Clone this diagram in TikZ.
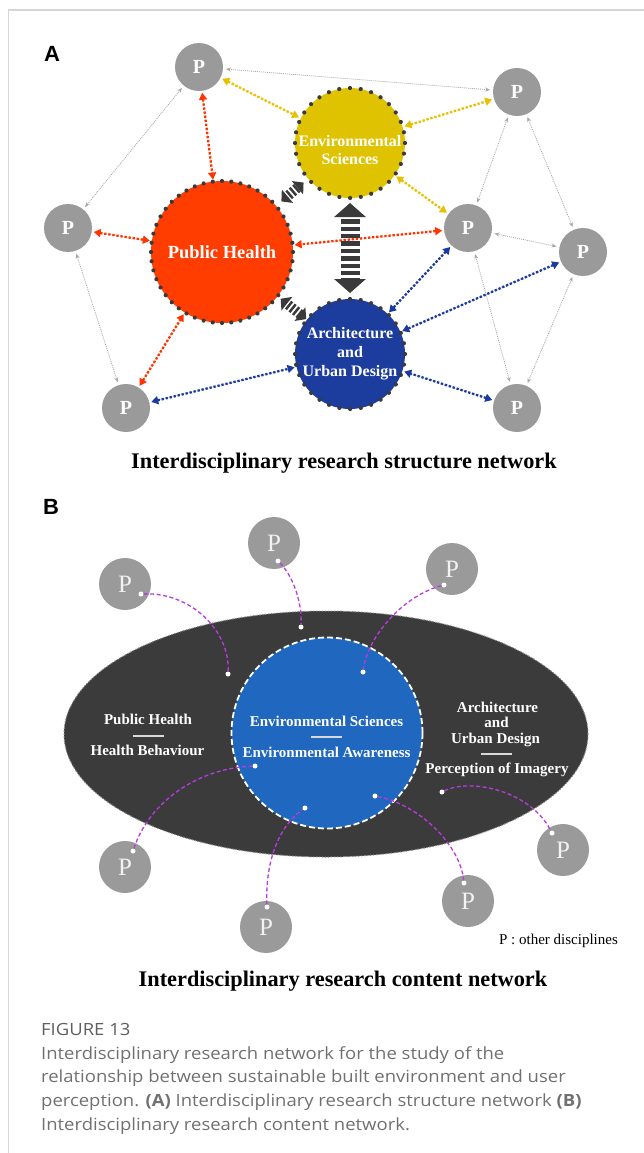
\documentclass[tikz,border=0pt]{standalone}
\usepackage{fontspec}
\setmainfont{Liberation Serif}
\newfontfamily\capfont[FakeStretch=1.1]{Open Sans}
\newfontfamily\labfont{Liberation Sans}
\usetikzlibrary{arrows.meta,shapes.geometric}
\definecolor{pgray}{HTML}{9A9A9A}
\definecolor{esyel}{HTML}{E0C300}
\definecolor{phred}{HTML}{FF3D00}
\definecolor{audblue}{HTML}{1C3C9E}
\definecolor{yarr}{HTML}{E8C000}
\definecolor{rarr}{HTML}{FF3300}
\definecolor{barr}{HTML}{1A3A9F}
\definecolor{dotc}{HTML}{3A3A3A}
\definecolor{lgray}{HTML}{A8A8A8}
\definecolor{ellc}{HTML}{3B3B3B}
\definecolor{ellb}{HTML}{8A8A8A}
\definecolor{bblue}{HTML}{1F67BF}
\definecolor{mag}{HTML}{B83BE0}
\definecolor{ptext}{HTML}{F2F2F2}
\definecolor{capgray}{HTML}{707070}
\definecolor{framec}{HTML}{D6D6D6}
\begin{document}
\begin{tikzpicture}[x=1pt,y=-1pt,
  pA/.style={circle, fill=pgray, minimum size=48pt, inner sep=0pt, outer sep=0pt, text=white, font=\bfseries\fontsize{20}{20}\selectfont},
  pB/.style={circle, fill=pgray, minimum size=52pt, inner sep=0pt, outer sep=0pt, text=ptext, font=\fontsize{25}{25}\selectfont},
  disc/.style={circle, inner sep=0pt, outer sep=0pt, draw=dotc, line width=4.2pt, line cap=round, text=white, align=center},
  con/.style={line width=2.3pt, dash pattern=on 2.3pt off 1.8pt, shorten <=2pt, shorten >=2pt, arrows={Triangle[length=7pt,width=8pt]-Triangle[length=7pt,width=8pt]}},
  ycon/.style={con, draw=yarr, fill=yarr},
  rcon/.style={con, draw=rarr, fill=rarr},
  bcon/.style={con, draw=barr, fill=barr},
  gcon/.style={draw=lgray, line width=0.8pt, dash pattern=on 1pt off 1pt, shorten <=3pt, shorten >=3pt, arrows={Stealth[length=5pt,width=4pt]-Stealth[length=5pt,width=4pt]}},
  bigarr/.style={draw=dotc, line width=19pt, dash pattern=on 4.3pt off 3.1pt, dash phase=4.3pt, arrows={Triangle[length=14pt,width=31pt]-Triangle[length=14pt,width=31pt]}},
  smallarr/.style={draw=dotc, line width=10pt, dash pattern=on 2.5pt off 2pt, dash phase=2.5pt, arrows={Triangle[length=8pt,width=17pt]-Triangle[length=8pt,width=17pt]}},
  panlab/.style={inner sep=0pt, anchor=base west, font=\labfont\bfseries\fontsize{22}{22}\selectfont},
  ttl/.style={inner sep=0pt, anchor=base, font=\bfseries\fontsize{22.3}{24}\selectfont},
  btxt/.style={inner sep=0pt, anchor=base, text=white, font=\bfseries\fontsize{15}{16}\selectfont},
  sepl/.style={draw=white!85!black, line width=1.2pt},
  wdot/.style={circle, fill=white, inner sep=0pt, minimum size=5pt},
  mcurve/.style={draw=mag, line width=1.3pt, dash pattern=on 4pt off 2.5pt},
  captxt/.style={inner sep=0pt, anchor=base west, text=capgray, font=\capfont\fontsize{16.8}{20}\selectfont}
]
\useasboundingbox (0,0) rectangle (644,1153);
\draw[framec, line width=1.2pt] (644,10) -- (8.5,10) -- (8.5,1153);

% ---------------- Panel A ----------------
\node[panlab] (labA) at (44,62) {A};

\node[pA] (P1) at (199,67) {P};
\node[pA] (P2) at (517,92) {P};
\node[pA] (PL) at (68,228) {P};
\node[pA] (PM) at (468,228) {P};
\node[pA] (PR) at (583,252) {P};
\node[pA] (PBL) at (126,408) {P};
\node[pA] (PBR) at (517,408) {P};

\node[disc, fill=phred, minimum size=142pt, dash pattern=on 0pt off 9.294pt,
      font=\bfseries\fontsize{18.5}{20}\selectfont] (PH) at (222,252) {Public Health};
\node[disc, fill=esyel, minimum size=110pt, dash pattern=on 0pt off 10.8pt,
      label={[text=white, align=center, yshift=-7pt, font=\bfseries\fontsize{16}{18}\selectfont]center:{Environmental\\Sciences}}] (ES) at (350,143) {};
\node[disc, fill=audblue, minimum size=110pt, dash pattern=on 0pt off 10.8pt,
      font=\bfseries\fontsize{16}{19}\selectfont] (AUD) at (350,354) {Architecture\\and\\Urban Design};

% gray links
\draw[gcon] (P1) -- (P2);
\draw[gcon] (P1) -- (PL);
\draw[gcon] (PL) -- (PBL);
\draw[gcon] (P2) -- (PM);
\draw[gcon] (P2) -- (PR);
\draw[gcon] (PM) -- (PR);
\draw[gcon] (PM) -- (PBR);
\draw[gcon] (PR) -- (PBR);

% yellow links
\draw[ycon] (P1) -- (ES);
\draw[ycon] (ES) -- (P2);
\draw[ycon] (ES) -- (PM);

% red links
\draw[rcon] (P1) -- (PH);
\draw[rcon] (PL) -- (PH);
\draw[rcon] (PM) -- (PH);
\draw[rcon] (PBL) -- (PH);

% blue links
\draw[bcon] (PM) -- (AUD);
\draw[bcon] (PR) -- (AUD);
\draw[bcon] (PBL) -- (AUD);
\draw[bcon] (PBR) -- (AUD);

% big striped arrows
\draw[bigarr, shorten <=5pt, shorten >=6pt] (ES) -- (AUD);
\draw[smallarr, shorten <=7pt, shorten >=6pt] (PH) -- (ES);
\draw[smallarr, shorten <=4pt, shorten >=1pt] (PH) -- (AUD);

\node[ttl] (titleA) at (344,468) {Interdisciplinary research structure network};

% ---------------- Panel B ----------------
\node[panlab] (labB) at (43,514) {B};

\node[ellipse, fill=ellc, draw=ellb, line width=1pt, dash pattern=on 1.5pt off 1.5pt,
      minimum width=524pt, minimum height=246pt, inner sep=0pt] (ELL) at (326,734) {};
\node[circle, fill=bblue, draw=white, line width=1.8pt, dash pattern=on 6pt off 3pt,
      minimum size=191pt, inner sep=0pt] (EC) at (327,733) {};

\node[btxt] (t1) at (148,724) {Public Health};
\draw[sepl] (132.5,736) -- (163.5,736);
\node[btxt] (t2) at (147.5,755) {Health Behaviour};

\node[btxt] (t3) at (326.5,726) {Environmental Sciences};
\draw[sepl] (311,737) -- (342,737);
\node[btxt] (t4) at (326.5,757) {Environmental Awareness};

\node[btxt] (t5) at (497.5,712) {Architecture};
\node[btxt] (t6) at (496.5,727) {and};
\node[btxt] (t7) at (495.5,743) {Urban Design};
\draw[sepl] (481,754) -- (512,754);
\node[btxt] (t8) at (497,773) {Perception of Imagery};

\node[pB] (PB1) at (125,584) {P};
\node[pB] (PB2) at (274,543) {P};
\node[pB] (PB3) at (452,569) {P};
\node[pB] (PB4) at (125,867) {P};
\node[pB] (PB5) at (266,927) {P};
\node[pB] (PB6) at (468,901) {P};
\node[pB] (PB7) at (563,850) {P};

\node[wdot] (d1a) at (141,594) {};
\node[wdot] (d1b) at (228,674) {};
\node[wdot] (d2a) at (278,561) {};
\node[wdot] (d2b) at (301,627) {};
\node[wdot] (d3a) at (444,585) {};
\node[wdot] (d3b) at (363,672) {};
\node[wdot] (d4a) at (133,851) {};
\node[wdot] (d4b) at (255,766) {};
\node[wdot] (d5a) at (267,907) {};
\node[wdot] (d5b) at (305,808) {};
\node[wdot] (d6a) at (464,883) {};
\node[wdot] (d6b) at (375,796) {};
\node[wdot] (d7a) at (552,833) {};
\node[wdot] (d7b) at (442,792) {};

\draw[mcurve] (d1a) .. controls (190,592) and (230,630) .. (d1b);
\draw[mcurve] (d2a) .. controls (292,575) and (302,600) .. (d2b);
\draw[mcurve] (d3a) .. controls (405,595) and (368,635) .. (d3b);
\draw[mcurve] (d4a) .. controls (150,800) and (200,768) .. (d4b);
\draw[mcurve] (d5a) .. controls (265,860) and (280,825) .. (d5b);
\draw[mcurve] (d6b) .. controls (420,805) and (460,845) .. (d6a);
\draw[mcurve] (d7b) .. controls (470,778) and (530,790) .. (d7a);

\node[inner sep=0pt, anchor=base, font=\fontsize{15}{16}\selectfont] (legend) at (558.5,944) {P : other disciplines};

\node[ttl] (titleB) at (343,986) {Interdisciplinary research content network};

% ---------------- Caption ----------------
\node[captxt, text=capgray!85!black] (fig) at (41,1035) {FIGURE 13};
\node[captxt] (c1) at (41,1059) {Interdisciplinary research network for the study of the};
\node[captxt] (c2) at (41,1082.7) {relationship between sustainable built environment and user};
\node[captxt] (c3) at (41,1106.4) {perception. {\bfseries (A)} Interdisciplinary research structure network {\bfseries (B)}};
\node[captxt] (c4) at (41,1130) {Interdisciplinary research content network.};
\end{tikzpicture}
\end{document}
